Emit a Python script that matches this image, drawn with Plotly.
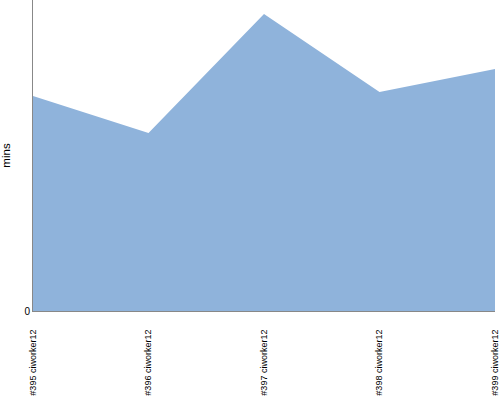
import plotly.graph_objects as go

builds = ["#395 ciworker12", "#396 ciworker12", "#397 ciworker12", "#398 ciworker12", "#399 ciworker12"]
mins = [215, 178, 297, 219, 242]
y_max = 311

fig = go.Figure()
fig.add_trace(go.Scatter(
    x=builds, y=mins, mode="lines", fill="tozeroy",
    line=dict(width=0, color="#8fb3db"), fillcolor="#8fb3db",
    hoverinfo="skip", showlegend=False,
))
fig.update_layout(
    width=500, height=400,
    margin=dict(l=33, r=5, t=0, b=89),
    paper_bgcolor="white", plot_bgcolor="white",
    font=dict(family="Liberation Sans, Arial, sans-serif", size=8, color="#000"),
    xaxis=dict(
        type="category", range=[0, len(builds) - 1], tickangle=-90, automargin=False,
        showgrid=False, zeroline=False, showline=True, linecolor="#888", linewidth=1,
        ticks="", ticklabelstandoff=14, tickfont=dict(size=9),
    ),
    yaxis=dict(
        range=[0, y_max], tickvals=[0], ticktext=["0"], showgrid=False, zeroline=False,
        showline=True, linecolor="#888", linewidth=1, ticks="", automargin=False,
        title=dict(text="mins", font=dict(size=11.5), standoff=12),
        tickfont=dict(size=10),
    ),
)
fig.write_html("out.html", post_script="document.body.style.margin='0';",
               config={"displayModeBar": False})
